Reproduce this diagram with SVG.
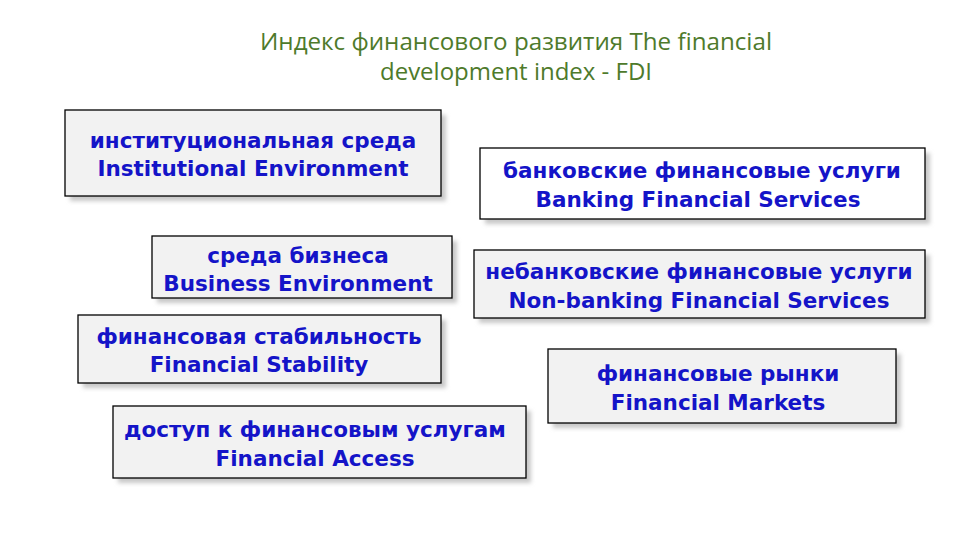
<svg xmlns="http://www.w3.org/2000/svg" width="960" height="540" viewBox="0 0 960 540">
<defs>
<filter id="sh" x="-10%" y="-20%" width="120%" height="150%"><feGaussianBlur stdDeviation="2"/></filter>
</defs>
<style>
.title{font-family:"Open Sans","Noto Sans","DejaVu Sans",sans-serif;font-size:23px;fill:#4e7a2b;text-anchor:middle}
.box{fill:#f2f2f2;stroke:#000;stroke-width:1.3}
.white{fill:#ffffff}
.shadow{fill:#c8c8c8;filter:url(#sh)}
.lbl{font-family:"DejaVu Sans","Verdana",sans-serif;font-weight:bold;font-size:21.5px;fill:#1414c8;text-anchor:middle}
</style>
<rect width="960" height="540" fill="#ffffff"/>
<g id="title">
<text class="title" x="516" y="50" textLength="512" lengthAdjust="spacingAndGlyphs">Индекс финансового развития  The financial</text>
<text class="title" x="516" y="80" textLength="272" lengthAdjust="spacingAndGlyphs">development index - FDI</text>
</g>
<g id="institutional">
<rect class="shadow" x="70" y="115" width="376" height="86"/>
<rect class="box" x="65" y="110" width="376" height="86"/>
<text class="lbl" x="253" y="148">институциональная среда</text>
<text class="lbl" x="253" y="176">Institutional Environment</text>
</g>
<g id="banking">
<rect class="shadow" x="485" y="153" width="445" height="71"/>
<rect class="box white" x="480" y="148" width="445" height="71"/>
<text class="lbl" x="702" y="178">банковские финансовые услуги</text>
<text class="lbl" x="698" y="207">Banking Financial Services</text>
</g>
<g id="business">
<rect class="shadow" x="157" y="241" width="300" height="62"/>
<rect class="box" x="152" y="236" width="300" height="62"/>
<text class="lbl" x="298" y="263">среда бизнеса</text>
<text class="lbl" x="298" y="291">Business Environment</text>
</g>
<g id="nonbanking">
<rect class="shadow" x="479" y="255" width="451" height="68"/>
<rect class="box" x="474" y="250" width="451" height="68"/>
<text class="lbl" x="699" y="279">небанковские финансовые услуги</text>
<text class="lbl" x="699" y="308">Non-banking Financial Services</text>
</g>
<g id="stability">
<rect class="shadow" x="83" y="320" width="363" height="68"/>
<rect class="box" x="78" y="315" width="363" height="68"/>
<text class="lbl" x="259" y="344">финансовая стабильность</text>
<text class="lbl" x="259" y="372">Financial Stability</text>
</g>
<g id="markets">
<rect class="shadow" x="553" y="354" width="348" height="74"/>
<rect class="box" x="548" y="349" width="348" height="74"/>
<text class="lbl" x="718" y="381">финансовые рынки</text>
<text class="lbl" x="718" y="410">Financial Markets</text>
</g>
<g id="access">
<rect class="shadow" x="118" y="411" width="413" height="72"/>
<rect class="box" x="113" y="406" width="413" height="72"/>
<text class="lbl" x="315" y="437">доступ к финансовым услугам</text>
<text class="lbl" x="315" y="466">Financial Access</text>
</g>
<g id="connectors"></g>
</svg>
